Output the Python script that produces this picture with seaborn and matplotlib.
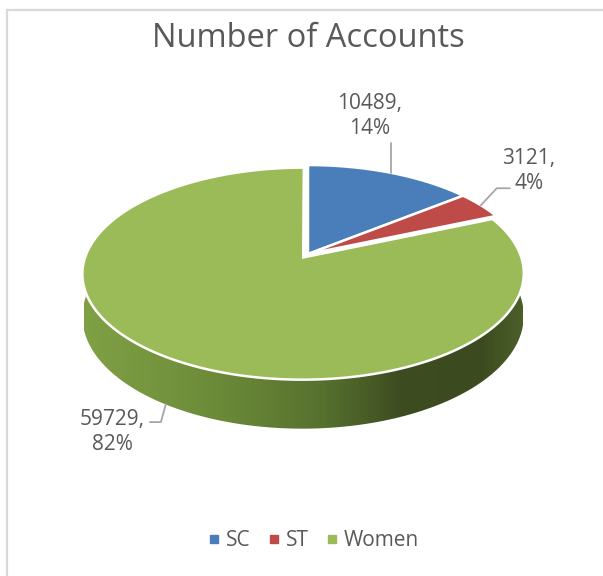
import numpy as np
import matplotlib
matplotlib.use("Agg")
import matplotlib.pyplot as plt
import seaborn as sns
from matplotlib.colors import LinearSegmentedColormap
from matplotlib.lines import Line2D
from matplotlib.patches import Polygon

# ---------------- data ----------------
title = "Number of Accounts"
categories = ["SC", "ST", "Women"]
values = [10489, 3121, 59729]
percent_labels = ["14%", "4%", "82%"]
colors = ["#4a7ebb", "#be4b48", "#9bbb59"]
explode = [0.0, 0.0, 0.04]

sns.set_theme(style="white")
plt.rcParams['font.family'] = ['Open Sans', 'DejaVu Sans']
TEXT = "#595959"

fig = plt.figure(figsize=(6.03, 5.76), dpi=100)
ax = fig.add_axes([0, 0, 1, 1])
ax.set_xlim(0, 603)
ax.set_ylim(576, 0)
ax.axis('off')

# perspective projection of a tilted disc (layout parameters)
X0, Y0, S, T, K, H = 308, 254, 217, 102.5, 0.152, 41.3


def proj(px, py, z=0.0):
    d = 1 + K * py
    return X0 + S * px / d, Y0 - T * py / d + H * z / d


side_cmap = LinearSegmentedColormap.from_list(
    "side", [(0.0, "#80a045"), (0.3, "#6c8b39"), (0.55, "#56702e"),
             (0.72, "#3e4d21"), (0.9, "#3b4a1f"), (1.0, "#4b5e29")])

vals = np.array(values, dtype=float)
fr = vals / vals.sum()
starts = np.concatenate([[0], np.cumsum(fr)[:-1]]) * 360
ends = np.cumsum(fr) * 360

geo = []
for i in range(len(values)):
    a0, a1 = starts[i], ends[i]
    mid = np.radians((a0 + a1) / 2)
    ox, oy = explode[i] * np.sin(mid), explode[i] * np.cos(mid)
    th = np.radians(np.linspace(a0, a1, 400))
    px, py = ox + np.sin(th), oy + np.cos(th)
    geo.append((ox, oy, th, px, py, mid))

# sides (front-facing part) with horizontal gradient
grad = side_cmap(np.linspace(0, 1, 440))[None, :, :]
for i, (ox, oy, th, px, py, mid) in enumerate(geo):
    m = np.cos(th) < 0.1
    if m.sum() < 2:
        continue
    tx, ty = proj(px[m], py[m])
    bx, by = proj(px[m], py[m], 1)
    poly = Polygon(np.column_stack([np.concatenate([tx, bx[::-1]]),
                                    np.concatenate([ty, by[::-1]])]),
                   closed=True, fc="none", ec="none", zorder=1)
    ax.add_patch(poly)
    im = ax.imshow(grad, extent=(84, 523, 460, 240), aspect="auto",
                   interpolation="bilinear", zorder=1)
    im.set_clip_path(poly)

# top faces
for i, (ox, oy, th, px, py, mid) in enumerate(geo):
    cx, cy = proj(ox, oy)
    rx, ry = proj(px, py)
    ax.fill(np.concatenate([[cx], rx]), np.concatenate([[cy], ry]),
            color=colors[i], ec="white", lw=1.8, zorder=3)

ax.set_xlim(0, 603)
ax.set_ylim(576, 0)

# labels with leader lines
LINE = "#a6a6a6"
FS = 15
LS = 1.2
# SC
ox, oy, th, px, py, mid = geo[0]
ax_, ay_ = proj(ox + np.sin(mid), oy + np.cos(mid))
ax.plot([ax_, ax_], [ay_, ay_ - 30], color=LINE, lw=1.3, zorder=4)
ax.text(370, 116, f"{values[0]},\n{percent_labels[0]}", ha="center", va="center",
        fontsize=FS, color=TEXT, linespacing=LS)
# ST
ox, oy, th, px, py, mid = geo[1]
ax_, ay_ = proj(ox + np.sin(mid), oy + np.cos(mid))
ax.plot([ax_, ax_ + 16, ax_ + 29], [ay_, ay_ - 17, ay_ - 17], color=LINE, lw=1.3, zorder=4)
ax.text(529, 171, f"{values[1]},\n{percent_labels[1]}", ha="center", va="center",
        fontsize=FS, color=TEXT, linespacing=LS)
# Women
ox, oy, th, px, py, mid = geo[2]
ax_, ay_ = proj(ox + np.sin(mid), oy + np.cos(mid), 1)
ax.plot([ax_ + 1, ax_ - 4, ax_ - 15], [ay_, ay_ + 18, ay_ + 18], color=LINE, lw=1.3, zorder=4)
ax.text(112, 432, f"{values[2]},\n{percent_labels[2]}", ha="center", va="center",
        fontsize=FS, color=TEXT, linespacing=LS)

# title
ax.text(308, 47, title, ha="center", va="baseline", fontsize=23.5, color=TEXT)

# border (chart area, cropped)
ax.plot([6, 603], [9.5, 9.5], color="#d9d9d9", lw=1.6, solid_capstyle="butt")
ax.plot([6.5, 6.5], [9, 576], color="#d9d9d9", lw=1.6, solid_capstyle="butt")

# legend
handles = [Line2D([], [], ls="none", marker="s", markersize=5.8, color=c) for c in colors]
leg = fig.legend(handles, categories, loc="center", bbox_to_anchor=(314 / 603, 1 - 541 / 576),
                 ncol=3, frameon=False, fontsize=15, handlelength=0.45, handletextpad=0.35,
                 columnspacing=0.9, labelcolor=TEXT)

fig.savefig("out.png", dpi=100)
